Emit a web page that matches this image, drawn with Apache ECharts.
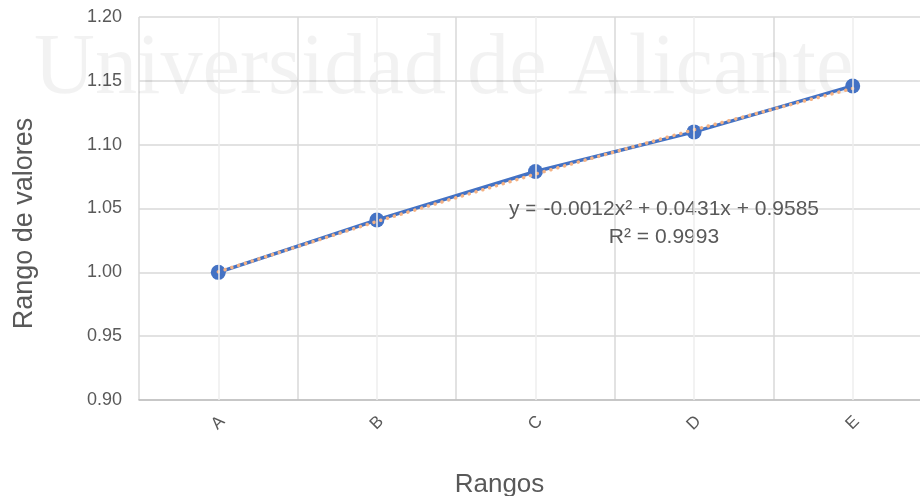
<!DOCTYPE html>
<html>
<head>
<meta charset="utf-8">
<script src="https://cdn.jsdelivr.net/npm/echarts@6/dist/echarts.min.js"></script>
<style>
  html, body { margin: 0; padding: 0; background: #ffffff; }
  #chart { width: 920px; height: 496px; }
</style>
</head>
<body>
<div id="chart"></div>
<script>
// Categories and measured values
const categories = ['A', 'B', 'C', 'D', 'E'];
const values = [1.000, 1.041, 1.079, 1.110, 1.146];

// Polynomial trend (order 2): y = c2*x^2 + c1*x + c0, x = 1..5
const trendCoefficients = [-0.0012, 0.0431, 0.9585];
const trendEquation = 'y = -0.0012x² + 0.0431x + 0.9585';
const trendR2 = 'R² = 0.9993';

// Y axis range and step
const yMin = 0.90, yMax = 1.20, yStep = 0.05;

const trendValues = categories.map((c, i) => {
  const x = i + 1;
  return trendCoefficients[0] * x * x + trendCoefficients[1] * x + trendCoefficients[2];
});

const textColor = '#595959';
const sans = '"Liberation Sans", Arial, sans-serif';

const chart = echarts.init(document.getElementById('chart'), null, { renderer: 'canvas' });

chart.setOption({
  animation: false,
  backgroundColor: '#ffffff',
  grid: {
    left: 139, top: 17, width: 793, height: 383,
    containLabel: false,
    outerBoundsMode: 'none'
  },
  xAxis: {
    type: 'category',
    data: categories,
    boundaryGap: true,
    name: 'Rangos',
    nameLocation: 'middle',
    nameGap: 72,
    // the plot runs past the right edge of the page; pull the title back to the visible centre
    nameTextStyle: { fontFamily: sans, fontSize: 26, color: textColor, padding: [0, 72, 0, 0] },
    axisLine: { show: true, lineStyle: { color: '#bfbfbf', width: 1.5 } },
    axisTick: { show: false },
    axisLabel: {
      rotate: 45, fontFamily: sans, fontSize: 17, color: textColor, margin: 23,
      align: 'center', verticalAlign: 'middle'
    },
    splitLine: { show: true, lineStyle: { color: '#d9d9d9', width: 1.5 } }
  },
  yAxis: {
    type: 'value',
    min: yMin,
    max: yMax,
    interval: yStep,
    name: 'Rango de valores',
    nameLocation: 'middle',
    nameRotate: 90,
    nameGap: 101,
    nameTextStyle: { fontFamily: sans, fontSize: 27, color: textColor, padding: [0, 30, 0, 0] },
    axisLine: { show: false },
    axisTick: { show: false },
    axisLabel: {
      fontFamily: sans, fontSize: 18, color: textColor, margin: 17,
      formatter: v => v.toFixed(2)
    },
    splitLine: { show: true, lineStyle: { color: '#d9d9d9', width: 1.5 } }
  },
  graphic: [
    {
      type: 'text',
      z: 1,
      silent: true,
      x: 34,
      y: 27,
      scaleX: 0.969,
      style: {
        text: 'Universidad de Alicante',
        font: '87px "Liberation Serif", "DejaVu Serif", serif',
        fill: 'rgba(0,0,0,0.05)',
        verticalAlign: 'top'
      }
    },
    {
      type: 'text',
      z: 5,
      silent: true,
      x: 664,
      y: 209,
      style: {
        text: trendEquation,
        font: '21px ' + sans,
        fill: textColor,
        align: 'center',
        verticalAlign: 'middle'
      }
    },
    {
      type: 'text',
      z: 5,
      silent: true,
      x: 664,
      y: 237,
      style: {
        text: trendR2,
        font: '21px ' + sans,
        fill: textColor,
        align: 'center',
        verticalAlign: 'middle'
      }
    }
  ],
  series: [
    {
      // light vertical guides through each category centre
      type: 'line',
      data: [],
      z: 1,
      silent: true,
      markLine: {
        silent: true,
        symbol: 'none',
        label: { show: false },
        lineStyle: { color: '#eeeeee', width: 1.5, type: 'solid' },
        data: categories.map(c => ({ xAxis: c }))
      }
    },
    {
      name: 'Valores',
      type: 'line',
      data: values,
      z: 3,
      symbol: 'circle',
      symbolSize: 15,
      itemStyle: { color: '#4472C4' },
      lineStyle: { color: '#4472C4', width: 3.5 }
    },
    {
      name: 'Tendencia',
      type: 'line',
      data: trendValues,
      z: 4,
      symbol: 'none',
      lineStyle: { color: '#F4B183', width: 3.5, type: [0.1, 7], cap: 'round' }
    }
  ]
});
</script>
</body>
</html>
